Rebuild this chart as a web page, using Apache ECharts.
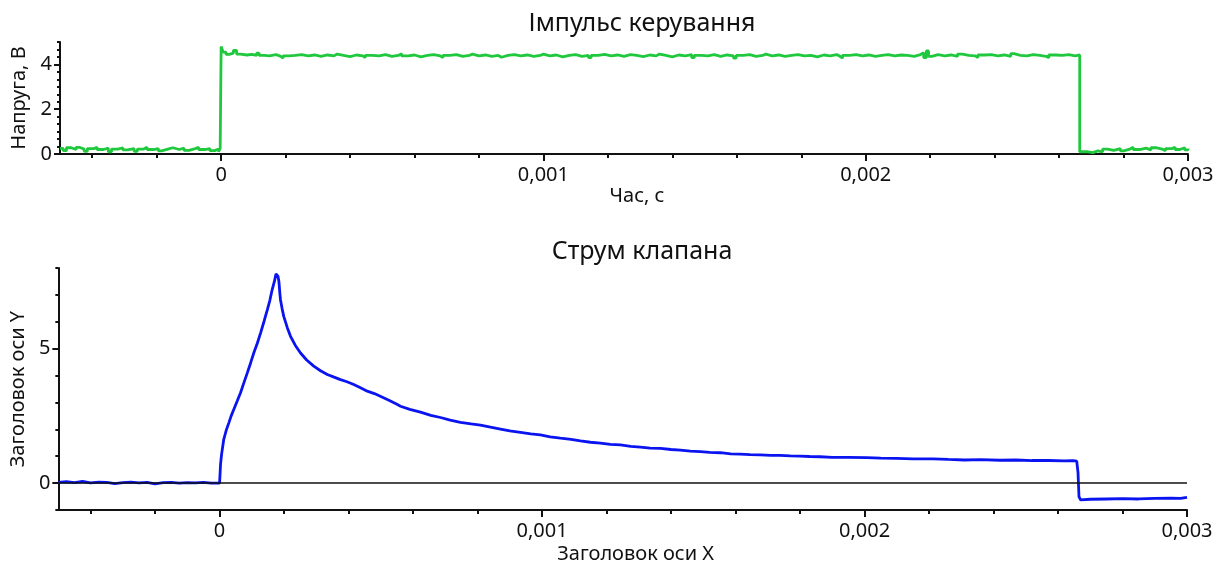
<!DOCTYPE html>
<html>
<head>
<meta charset="utf-8">
<title>Імпульс керування / Струм клапана</title>
<script src="https://cdn.jsdelivr.net/npm/echarts@6/dist/echarts.min.js"></script>
<style>
	html, body { margin: 0; padding: 0; background: #fff; }
	#chart { width: 1229px; height: 566px; }
</style>
</head>
<body>
<div id="chart"></div>
<script>
// control pulse: change points (time in microseconds, level in volts)
var pulseTimeUs = [
	-500, -490, -480, -465, -450, -440, -425, -415, -395, -385, -365, -350, -340, -320, -305, -290, -270, -260, -240, -230,
	-210, -195, -185, -165, -150, -130, -115, -100, -80, -70, -50, -35, -20, -8, -3,
	0, 6, 15, 25, 38, 48, 60, 80, 95, 110, 118, 135, 150, 170, 185, 192, 210, 230, 250, 270, 290, 310, 330, 350, 360,
	380, 400, 420, 440, 447, 470, 490, 510, 530, 550, 560, 580, 600, 620, 640, 660, 680, 688, 710, 730, 750, 770, 780,
	800, 820, 840, 860, 870, 890, 910, 930, 950, 970, 990, 1000, 1020, 1040, 1060, 1080, 1100, 1120, 1140, 1148, 1170,
	1190, 1210, 1230, 1250, 1270, 1290, 1310, 1330, 1350, 1360, 1380, 1400, 1420, 1440, 1460, 1468, 1490, 1510, 1530,
	1550, 1570, 1590, 1598, 1620, 1640, 1660, 1680, 1690, 1710, 1730, 1750, 1770, 1790, 1810, 1830, 1850, 1870, 1890,
	1910, 1920, 1928, 1950, 1970, 1990, 2010, 2030, 2050, 2070, 2090, 2110, 2130, 2150, 2170, 2180, 2188, 2195, 2205,
	2225, 2245, 2265, 2285, 2300, 2320, 2340, 2348, 2370, 2390, 2410, 2430, 2450, 2460, 2480, 2500, 2520, 2540, 2560,
	2568, 2590, 2610, 2630, 2650,
	2664, 2690, 2705, 2720, 2735, 2750, 2770, 2790, 2800, 2820, 2830, 2850, 2870, 2885, 2900, 2920, 2930, 2950, 2960,
	2975, 2990, 3000
];
var pulseVolts = [
	0.25, 0.15, 0.28, 0.20, 0.30, 0.22, 0.12, 0.24, 0.30, 0.20, 0.26, 0.10, 0.22, 0.28, 0.18, 0.24, 0.12, 0.22, 0.30, 0.20,
	0.24, 0.14, 0.22, 0.28, 0.20, 0.26, 0.16, 0.24, 0.30, 0.20, 0.24, 0.15, 0.22, 0.10, 0.25,
	4.80, 4.55, 4.45, 4.50, 4.62, 4.46, 4.42, 4.45, 4.40, 4.50, 4.40, 4.38, 4.44, 4.36, 4.28, 4.38, 4.40, 4.44, 4.38, 4.42, 4.36, 4.42, 4.38, 4.46, 4.40,
	4.35, 4.42, 4.38, 4.30, 4.40, 4.38, 4.44, 4.36, 4.40, 4.47, 4.38, 4.42, 4.34, 4.40, 4.44, 4.38, 4.30, 4.40, 4.44, 4.36, 4.40, 4.46, 4.38,
	4.42, 4.36, 4.40, 4.32, 4.40, 4.44, 4.38, 4.42, 4.36, 4.40, 4.46, 4.38, 4.42, 4.34, 4.40, 4.44, 4.36, 4.40, 4.30, 4.40, 4.45,
	4.38, 4.42, 4.36, 4.44, 4.40, 4.35, 4.42, 4.38, 4.46, 4.40, 4.34, 4.42, 4.38, 4.44, 4.30, 4.40, 4.38, 4.44, 4.36,
	4.42, 4.38, 4.28, 4.40, 4.44, 4.36, 4.40, 4.46, 4.38, 4.42, 4.36, 4.40, 4.44, 4.38, 4.40, 4.34, 4.42, 4.38, 4.44,
	4.36, 4.28, 4.40, 4.44, 4.38, 4.42, 4.36, 4.40, 4.44, 4.38, 4.42, 4.40, 4.36, 4.44, 4.52, 4.30, 4.60, 4.36, 4.44,
	4.38, 4.42, 4.36, 4.46, 4.40, 4.38, 4.30, 4.42, 4.44, 4.38, 4.42, 4.36, 4.48, 4.40, 4.38, 4.44, 4.40, 4.36, 4.30,
	4.42, 4.40, 4.44, 4.38, 4.42,
	0.10, 0.06, 0.14, 0.10, 0.22, 0.16, 0.24, 0.14, 0.22, 0.30, 0.20, 0.26, 0.18, 0.28, 0.22, 0.14, 0.24, 0.30, 0.20,
	0.28, 0.18, 0.24
];

// valve current (time in microseconds, current), one row of times per row of values
var currentTimeUs = [
	-500, -475, -450, -425, -400, -375, -350, -325, -300, -275, -250, -225, -200, -175, -150, -125, -100, -75, -50, -25,
	0, 3, 6, 13, 21, 29, 36, 44, 55, 65, 75, 86, 96, 106, 117, 127, 138, 148, 156, 163,
	170, 175, 178, 181, 184, 187, 189, 194, 199, 210, 220, 235, 251, 270, 292, 313, 334, 355, 375, 395,
	416, 437, 458, 480, 500, 525, 550, 561, 590, 623, 655, 685, 715, 747, 780, 809, 840, 871, 900, 933,
	965, 995, 1025, 1057, 1090, 1119, 1150, 1181, 1212, 1243, 1275, 1305, 1335, 1367, 1400, 1429, 1460, 1491, 1520, 1553,
	1585, 1614, 1645, 1676, 1710, 1738, 1770, 1800, 1830, 1862, 1900, 1950, 2007, 2050, 2100, 2150, 2213, 2260, 2310, 2360,
	2420, 2470, 2520, 2570, 2620, 2647, 2658, 2662, 2665, 2670, 2700, 2750, 2800, 2850, 2900, 2950, 2980, 3000
];
var currentValues = [
	0.03, 0.05, 0.02, 0.06, 0.01, 0.04, 0.03, -0.02, 0.02, 0.04, 0.01, 0.03, -0.03, 0.02, 0.03, 0.00, 0.02, 0.01, 0.03, 0.00,
	0.00, 0.70, 1.05, 1.63, 1.98, 2.25, 2.50, 2.74, 3.06, 3.36, 3.72, 4.10, 4.46, 4.84, 5.20, 5.58, 6.02, 6.44, 6.80, 7.19,
	7.50, 7.78, 7.82, 7.70, 7.50, 7.05, 6.81, 6.48, 6.20, 5.78, 5.46, 5.12, 4.84, 4.58, 4.35, 4.18, 4.04, 3.94, 3.85, 3.77,
	3.67, 3.55, 3.42, 3.33, 3.22, 3.08, 2.93, 2.86, 2.74, 2.64, 2.52, 2.44, 2.34, 2.26, 2.20, 2.16, 2.08, 2.01, 1.94, 1.89,
	1.83, 1.79, 1.72, 1.67, 1.63, 1.57, 1.52, 1.49, 1.44, 1.42, 1.37, 1.34, 1.30, 1.29, 1.25, 1.23, 1.19, 1.17, 1.14, 1.13,
	1.09, 1.08, 1.06, 1.05, 1.03, 1.03, 1.01, 1.00, 0.99, 0.98, 0.96, 0.96, 0.95, 0.93, 0.92, 0.90, 0.90, 0.88, 0.86, 0.87,
	0.85, 0.86, 0.84, 0.84, 0.83, 0.84, 0.82, 0.40, -0.50, -0.62, -0.60, -0.59, -0.58, -0.59, -0.57, -0.56, -0.57, -0.53
];

var timeMajorTicks = [0, 0.001, 0.002, 0.003];
var timeMinorTicks = [-0.0004, -0.0002, 0.0002, 0.0004, 0.0006, 0.0008, 0.0012, 0.0014, 0.0016, 0.0018,
	0.0022, 0.0024, 0.0026, 0.0028];
var voltMajorTicks = [0, 2, 4];
var voltMinorTicks = [0.333, 0.667, 1, 1.333, 1.667, 2.333, 2.667, 3, 3.333, 3.667, 4.333, 4.667, 5];
var currentMajorTicks = [0, 5];
var currentMinorTicks = [-1, 1, 2, 3, 4, 6, 7, 8];

(function()
{
	var font = '"Noto Sans", sans-serif';
	var ink = '#111';

	function toPairs(timesUs, values)
	{
		return timesUs.map(function(t, i) { return [t / 1e6, values[i]]; });
	}

	function commaLabel(value)
	{
		return String(value).replace('.', ',');
	}

	function majorX(gridIndex, name, gap)
	{
		return {
			type: 'value', gridIndex: gridIndex, position: 'bottom', min: -0.0005, max: 0.003,
			name: name, nameLocation: 'middle', nameGap: gap,
			nameTextStyle: { fontFamily: font, fontSize: 20, color: ink, padding: [0, 0, 0, 26] },
			axisLine: { show: true, onZero: false, lineStyle: { color: ink, width: 2 } },
			axisTick: { show: true, length: 7, customValues: timeMajorTicks, lineStyle: { color: ink, width: 2 } },
			axisLabel: { fontFamily: font, fontSize: 20, color: ink, margin: 11, customValues: timeMajorTicks, formatter: commaLabel },
			splitLine: { show: false }
		};
	}

	function minorX(gridIndex)
	{
		return {
			type: 'value', gridIndex: gridIndex, position: 'bottom', min: -0.0005, max: 0.003,
			axisLine: { show: false, onZero: false },
			axisTick: { show: true, length: 4, customValues: timeMinorTicks, lineStyle: { color: ink, width: 2 } },
			axisLabel: { show: false },
			splitLine: { show: false }
		};
	}

	function majorY(gridIndex, min, max, ticks, name, gap)
	{
		return {
			type: 'value', gridIndex: gridIndex, position: 'left', min: min, max: max,
			name: name, nameLocation: 'middle', nameGap: gap,
			nameTextStyle: { fontFamily: font, fontSize: 20, color: ink },
			axisLine: { show: true, onZero: false, lineStyle: { color: ink, width: 2 } },
			axisTick: { show: true, length: 6, customValues: ticks, lineStyle: { color: ink, width: 2 } },
			axisLabel: { fontFamily: font, fontSize: 20, color: ink, margin: 8, customValues: ticks },
			splitLine: { show: false }
		};
	}

	function minorY(gridIndex, min, max, ticks)
	{
		return {
			type: 'value', gridIndex: gridIndex, position: 'left', min: min, max: max,
			axisLine: { show: false, onZero: false },
			axisTick: { show: true, length: 3, customValues: ticks, lineStyle: { color: ink, width: 2 } },
			axisLabel: { show: false },
			splitLine: { show: false }
		};
	}

	var options =
	{
		animation: false,
		backgroundColor: '#fff',
		title: [
			{ text: 'Імпульс керування', left: 637, top: 6, textAlign: 'center',
				textStyle: { fontFamily: font, fontSize: 25, fontWeight: 'normal', color: ink } },
			{ text: 'Струм клапана', left: 637, top: 234, textAlign: 'center',
				textStyle: { fontFamily: font, fontSize: 25, fontWeight: 'normal', color: ink } }
		],
		grid: [
			{ left: 60, right: 41, top: 42, height: 112 },
			{ left: 57, right: 42, top: 268, height: 242 }
		],
		xAxis: [
			majorX(0, 'Час, с', 32),
			minorX(0),
			majorX(1, 'Заголовок оси X', 34),
			minorX(1)
		],
		yAxis: [
			majorY(0, 0, 5, voltMajorTicks, 'Напруга, В', 26),
			minorY(0, 0, 5, voltMinorTicks),
			majorY(1, -1, 8, currentMajorTicks, 'Заголовок оси Y', 26),
			minorY(1, -1, 8, currentMinorTicks)
		],
		series: [
			{
				name: 'Імпульс керування', type: 'line', step: 'end',
				xAxisIndex: 0, yAxisIndex: 0,
				showSymbol: false, symbol: 'none',
				lineStyle: { color: '#1fc83d', width: 2.8 },
				data: toPairs(pulseTimeUs, pulseVolts)
			},
			{
				name: 'Струм клапана', type: 'line',
				xAxisIndex: 2, yAxisIndex: 2,
				showSymbol: false, symbol: 'none',
				lineStyle: { color: '#0a14f0', width: 2.8 },
				data: toPairs(currentTimeUs, currentValues),
				markLine: {
					silent: true, symbol: 'none', label: { show: false },
					lineStyle: { color: ink, width: 1.5, type: 'solid' },
					data: [{ yAxis: 0 }]
				}
			}
		]
	};

	var chart = echarts.init(document.getElementById('chart'));
	chart.setOption(options);
})();
</script>
</body>
</html>
